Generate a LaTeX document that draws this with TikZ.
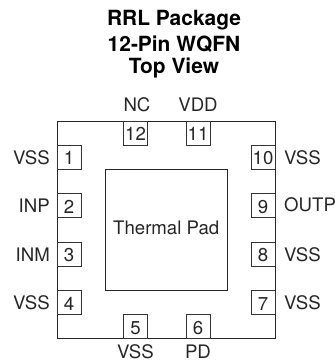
\documentclass[tikz,border=0pt]{standalone}
\usepackage{fontspec}
\setmainfont{TeX Gyre Heros}
\usepackage{xcolor}
\begin{document}
\begin{tikzpicture}[
  x=1bp,y=-1bp,
  pinbox/.style={draw=black!80,line width=0.8bp,minimum size=24bp,inner sep=0pt,text height=15bp,text depth=0pt,font=\fontsize{18.7}{18.7}\selectfont,text=black!85},
  pinname/.style={inner sep=0pt,font=\fontsize{18.7}{18.7}\selectfont,text=black!85},
  padbox/.style={draw=black!85,line width=0.9bp,minimum width=121.5bp,minimum height=120.5bp,inner sep=0pt,text height=13bp,text depth=4bp,font=\fontsize{18.7}{18.7}\selectfont,text=black!85},
  titleline/.style={inner sep=0pt,font=\fontsize{21}{21}\selectfont\bfseries}
  ]
\def\xl{69}
\def\xr{263}
\def\xa{135.5}
\def\xb{198}
\def\yt{133}
\def\yb{326.5}
\useasboundingbox (0,0) rectangle (335,362);
\node[titleline] (T1) at (174,20){RRL Package};
\node[titleline] (T2) at (174,44){12-Pin WQFN};
\node[titleline] (T3) at (174,68){Top View};
\draw[black!85,line width=0.9bp] (57,121) rectangle (275,338.5);
\node[padbox] (Pad) at (166.2,229.7){Thermal Pad};
\node[pinbox] (P1) at (\xl,157){1};
\node[pinbox] (P2) at (\xl,205.5){2};
\node[pinbox] (P3) at (\xl,254){3};
\node[pinbox] (P4) at (\xl,302.5){4};
\node[pinbox] (P5) at (\xa,\yb){5};
\node[pinbox] (P6) at (\xb,\yb){6};
\node[pinbox] (P7) at (\xr,302.5){7};
\node[pinbox] (P8) at (\xr,254){8};
\node[pinbox] (P9) at (\xr,205.5){9};
\node[pinbox] (P10) at (\xr,157){10};
\node[pinbox] (P11) at (\xb,\yt){11};
\node[pinbox] (P12) at (\xa,\yt){12};
\node[pinname,anchor=east] (N1) at (50,158){VSS};
\node[pinname,anchor=east] (N2) at (50,206){INP};
\node[pinname,anchor=east] (N3) at (50,255){INM};
\node[pinname,anchor=east] (N4) at (50,303){VSS};
\node[pinname] (N5) at (135.5,352){VSS};
\node[pinname] (N6) at (198,352){PD};
\node[pinname,anchor=west] (N7) at (284,303){VSS};
\node[pinname,anchor=west] (N8) at (284,255){VSS};
\node[pinname,anchor=west] (N9) at (284,205){OUTP};
\node[pinname,anchor=west] (N10) at (284,158){VSS};
\node[pinname] (N11) at (198,105){VDD};
\node[pinname] (N12) at (137,105){NC};
\end{tikzpicture}
\end{document}
